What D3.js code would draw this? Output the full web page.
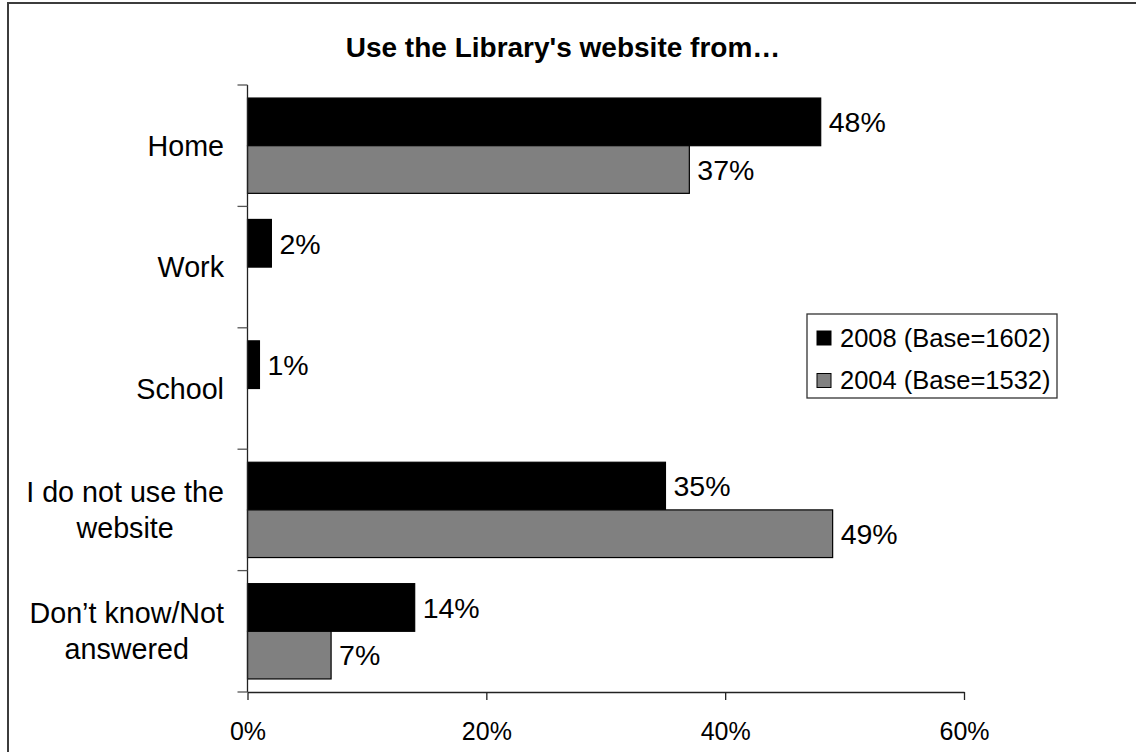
<!DOCTYPE html>
<html>
<head>
<meta charset="utf-8">
<script src="https://cdn.jsdelivr.net/npm/d3@7"></script>
<style>
  html, body { margin: 0; padding: 0; background: #fff; }
  svg { display: block; }
  text { font-family: "Liberation Sans", Arial, sans-serif; fill: #000; }
</style>
</head>
<body>
<svg id="chart" width="1136" height="752"></svg>
<script>
// Survey responses: where people use the Library's website from
const categories = ["Home", "Work", "School", "I do not use the website", "Don\u2019t know/Not answered"];
const categoryLines = [["Home"], ["Work"], ["School"], ["I do not use the", "website"], ["Don\u2019t know/Not", "answered"]];
const seriesNames = ["2008 (Base=1602)", "2004 (Base=1532)"];
const values2008 = [48, 2, 1, 35, 14];
const values2004 = [37, null, null, 49, 7];
const xTicks = [0, 20, 40, 60];
const chartTitle = "Use the Library's website from\u2026";

const seriesValues = [values2008, values2004];
const seriesColors = ["#000000", "#808080"];

const svg = d3.select("#chart");

// outer frame of the chart area
svg.append("rect")
  .attr("x", 8).attr("y", 3)
  .attr("width", 1200).attr("height", 800)
  .attr("fill", "none").attr("stroke", "#3c3c3c").attr("stroke-width", 2);

const plot = { left: 247.5, right: 964, top: 85, bottom: 692 };

const x = d3.scaleLinear().domain([0, 60]).range([plot.left, plot.right]);
const y = d3.scaleBand().domain(categories)
  .range([plot.top, plot.bottom])
  .paddingInner(0.215).paddingOuter(0.1075);
const ySub = d3.scaleBand().domain(seriesNames).range([0, y.bandwidth()]);

// title
svg.append("text")
  .attr("x", 563).attr("y", 57)
  .attr("text-anchor", "middle")
  .style("font-weight", "bold").style("font-size", "28px")
  .text(chartTitle);

// bars
const rows = [];
categories.forEach((c, i) => {
  seriesNames.forEach((s, j) => {
    const v = seriesValues[j][i];
    if (v != null) rows.push({ cat: c, series: s, value: v, color: seriesColors[j] });
  });
});

svg.append("g").selectAll("rect")
  .data(rows)
  .join("rect")
  .attr("x", x(0))
  .attr("y", d => y(d.cat) + ySub(d.series))
  .attr("width", d => x(d.value) - x(0))
  .attr("height", ySub.bandwidth())
  .attr("fill", d => d.color)
  .attr("stroke", "#000").attr("stroke-width", 1.2);

// value labels
svg.append("g").selectAll("text")
  .data(rows)
  .join("text")
  .attr("x", d => x(d.value) + 8)
  .attr("y", d => y(d.cat) + ySub(d.series) + ySub.bandwidth() / 2)
  .attr("dy", "0.36em")
  .style("font-size", "28.5px")
  .text(d => d.value + "%");

// x axis
const xAxis = svg.append("g")
  .attr("transform", `translate(0,${plot.bottom})`)
  .call(d3.axisBottom(x).tickValues(xTicks).tickFormat(d => d + "%").tickSize(8).tickSizeOuter(0).tickPadding(22));
xAxis.select(".domain").attr("stroke", "#222").attr("stroke-width", 1.3);
xAxis.selectAll(".tick line").attr("stroke", "#222").attr("stroke-width", 1.3);
xAxis.selectAll(".tick text")
  .style("font-size", "25px")
  .style("font-family", "'Liberation Sans', Arial, sans-serif")
  .attr("fill", "#000");

// y axis: line plus ticks at category boundaries
const boundaries = categories.map(c => y(c) - y.step() * y.paddingOuter()).concat([plot.bottom]);
svg.append("line")
  .attr("x1", plot.left).attr("x2", plot.left)
  .attr("y1", plot.top).attr("y2", plot.bottom)
  .attr("stroke", "#222").attr("stroke-width", 1.3);
svg.append("g").selectAll("line")
  .data(boundaries)
  .join("line")
  .attr("x1", plot.left - 10).attr("x2", plot.left)
  .attr("y1", d => d).attr("y2", d => d)
  .attr("stroke", "#555").attr("stroke-width", 1.3);

// category labels: wrapped block right-aligned, lines centred within the block
const labelRight = 224;
const lineHeight = 36;
const labelSize = "28.7px";
const measure = svg.append("text").style("font-size", labelSize).attr("visibility", "hidden");
categories.forEach((c, i) => {
  const lines = categoryLines[i];
  const widths = lines.map(l => { measure.text(l); return measure.node().getComputedTextLength(); });
  const blockW = d3.max(widths);
  const cx = labelRight - blockW / 2;
  const cy = y(c) + y.bandwidth() / 2;
  const firstBaseline = cy + 10 - (lines.length - 1) * lineHeight / 2;
  lines.forEach((l, k) => {
    svg.append("text")
      .attr("x", cx).attr("y", firstBaseline + k * lineHeight)
      .attr("text-anchor", "middle")
      .style("font-size", labelSize)
      .text(l);
  });
});
measure.remove();

// legend
const legend = svg.append("g");
legend.append("rect")
  .attr("x", 807).attr("y", 314).attr("width", 250).attr("height", 84)
  .attr("fill", "#fff").attr("stroke", "#333").attr("stroke-width", 1.3);
seriesNames.forEach((s, j) => {
  const cy = 338 + j * 42.5;
  legend.append("rect")
    .attr("x", 817).attr("y", cy - 7).attr("width", 14).attr("height", 14)
    .attr("fill", seriesColors[j]).attr("stroke", "#000").attr("stroke-width", 1);
  legend.append("text")
    .attr("x", 840).attr("y", cy + 8.5)
    .style("font-size", "25.5px")
    .text(s);
});
</script>
</body>
</html>
